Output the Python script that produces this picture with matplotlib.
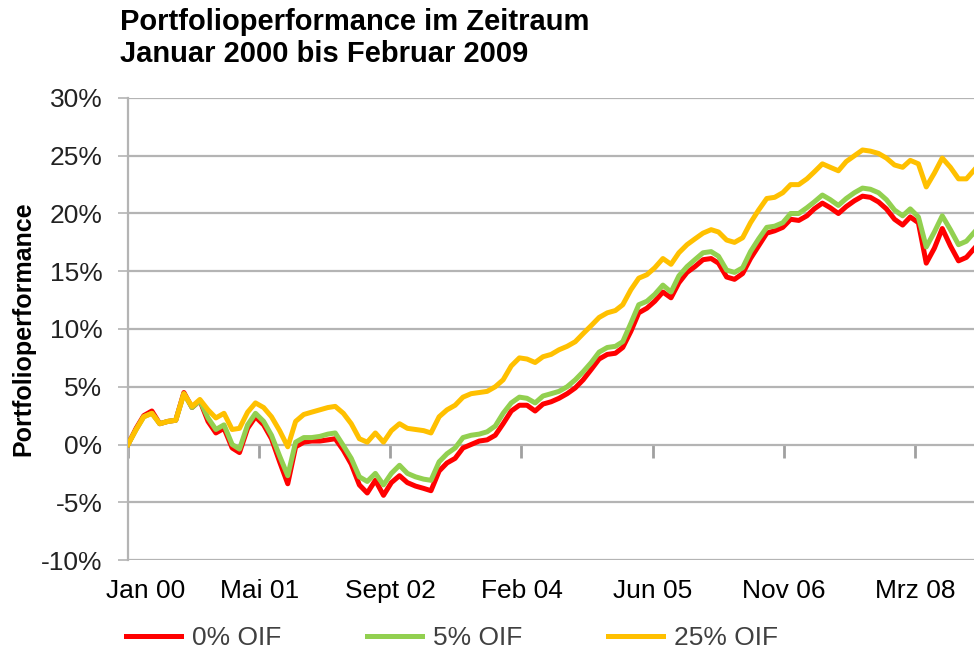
import matplotlib.pyplot as plt
import matplotlib.transforms as mtransforms
import numpy as np
import pandas as pd

plt.rcParams['font.family'] = ['Liberation Sans', 'DejaVu Sans']

# monthly values from Jan 2000, in percent
oif_25 = [0.0, 1.3, 2.4, 2.7, 1.8, 2.0, 2.1, 4.4, 3.3, 3.9,
          3.0, 2.3, 2.7, 1.3, 1.4, 2.8, 3.6, 3.2, 2.4, 1.2,
          -0.2, 2.0, 2.6, 2.8, 3.0, 3.2, 3.3, 2.7, 1.8, 0.5,
          0.2, 1.0, 0.2, 1.2, 1.8, 1.4, 1.3, 1.2, 1.0, 2.4,
          3.0, 3.4, 4.1, 4.4, 4.5, 4.6, 5.0, 5.6, 6.8, 7.5,
          7.4, 7.1, 7.6, 7.8, 8.2, 8.5, 8.9, 9.6, 10.3, 11.0,
          11.4, 11.6, 12.1, 13.4, 14.4, 14.7, 15.3, 16.1, 15.6, 16.6,
          17.3, 17.8, 18.3, 18.6, 18.4, 17.7, 17.5, 17.9, 19.2, 20.3,
          21.3, 21.4, 21.8, 22.5, 22.5, 23.0, 23.6, 24.3, 24.0, 23.7,
          24.5, 25.0, 25.5, 25.4, 25.2, 24.8, 24.2, 24.0, 24.6, 24.3,
          22.3, 23.5, 24.8, 24.0, 23.0, 23.0, 23.8]
oif_5 = [0.0, 1.3, 2.4, 2.7, 1.8, 2.0, 2.1, 4.4, 3.2, 3.8,
         2.3, 1.3, 1.7, 0.0, -0.4, 1.7, 2.7, 2.0, 0.8, -1.0,
         -2.7, 0.2, 0.6, 0.6, 0.7, 0.9, 1.0, -0.1, -1.2, -2.8,
         -3.2, -2.5, -3.5, -2.5, -1.8, -2.5, -2.8, -3.0, -3.1, -1.5,
         -0.8, -0.3, 0.6, 0.8, 0.9, 1.1, 1.6, 2.7, 3.6, 4.1,
         4.0, 3.6, 4.2, 4.4, 4.6, 5.0, 5.6, 6.3, 7.1, 8.0,
         8.4, 8.5, 8.9, 10.5, 12.1, 12.4, 13.0, 13.8, 13.2, 14.6,
         15.4, 16.0, 16.6, 16.7, 16.3, 15.1, 14.9, 15.3, 16.7, 17.8,
         18.8, 18.9, 19.2, 20.0, 20.0, 20.5, 21.0, 21.6, 21.2, 20.7,
         21.3, 21.8, 22.2, 22.1, 21.8, 21.2, 20.3, 19.8, 20.4, 19.7,
         17.1, 18.4, 19.8, 18.6, 17.3, 17.6, 18.4]
oif_0 = [0.0, 1.4, 2.5, 2.9, 1.8, 2.0, 2.1, 4.5, 3.2, 3.8,
         2.0, 1.0, 1.4, -0.3, -0.7, 1.4, 2.4, 1.7, 0.5, -1.5,
         -3.4, -0.2, 0.2, 0.3, 0.3, 0.4, 0.5, -0.5, -1.7, -3.5,
         -4.2, -3.1, -4.4, -3.3, -2.7, -3.3, -3.6, -3.8, -4.0, -2.3,
         -1.6, -1.2, -0.3, 0.0, 0.3, 0.4, 0.8, 1.8, 2.9, 3.4,
         3.4, 2.9, 3.5, 3.7, 4.0, 4.4, 4.9, 5.6, 6.5, 7.4,
         7.8, 7.9, 8.4, 9.8, 11.4, 11.8, 12.4, 13.2, 12.7, 14.0,
         14.9, 15.4, 16.0, 16.1, 15.7, 14.5, 14.3, 14.8, 16.1, 17.2,
         18.3, 18.5, 18.8, 19.5, 19.4, 19.8, 20.4, 20.9, 20.5, 20.0,
         20.6, 21.1, 21.5, 21.4, 21.0, 20.4, 19.5, 19.0, 19.7, 19.2,
         15.7, 17.0, 18.7, 17.2, 15.9, 16.2, 17.0]

series_names = ['0% OIF', '5% OIF', '25% OIF']
series_colors = ['#ff0000', '#92d050', '#ffc000']
tick_labels = ['Jan 00', 'Mai 01', 'Sept 02', 'Feb 04', 'Jun 05', 'Nov 06', 'Mrz 08']

dates = pd.date_range('2000-01-01', periods=len(oif_0), freq='MS')
start = pd.Timestamp('2000-01-01')
tick_dates = [start + pd.Timedelta(days=500 * k) for k in range(len(tick_labels))]

fig = plt.figure(figsize=(9.74, 6.57), dpi=100)
ax = fig.add_axes([128 / 974, 1 - 560 / 657, 1 - 128 / 974, 462 / 657])

grid_col = '#b4b4b4'
for vals, name, col in zip([oif_0, oif_5, oif_25], series_names, series_colors):
    ax.plot(dates, np.array(vals) / 100, color=col, lw=3.6, label=name,
            solid_joinstyle='round', zorder=3)

ax.set_ylim(-0.10, 0.30)
ax.set_xlim(start, start + pd.Timedelta(days=3225))
yt = np.arange(-0.10, 0.31, 0.05)
ax.set_yticks(yt)
ax.set_yticklabels(['%d%%' % round(v * 100) for v in yt], fontsize=19, color='#222222')
for v in yt:
    ax.axhline(v, color=grid_col, lw=1.6, zorder=1)

ax.set_xticks(tick_dates)
ax.set_xticklabels(tick_labels, fontsize=19)
ax.tick_params(axis='x', length=0, pad=14)
ax.tick_params(axis='y', length=7.5, width=1.2, color=grid_col, pad=11)
# first date label sits a bit to the right like in the original
lab0 = ax.get_xticklabels()[0]
lab0.set_transform(lab0.get_transform() + mtransforms.ScaledTranslation(0.18, 0, fig.dpi_scale_trans))

for s in ['top', 'right', 'bottom']:
    ax.spines[s].set_visible(False)
ax.spines['left'].set_color(grid_col)
ax.spines['left'].set_linewidth(1.6)

# tick marks on the zero line
sec = ax.secondary_xaxis(0.25)
sec.set_xticks(tick_dates)
sec.set_xticklabels([''] * len(tick_dates))
sec.tick_params(axis='x', length=9, width=2, color='#a0a0a0', direction='out')
sec.spines['bottom'].set_visible(False)

ax.set_ylabel('Portfolioperformance', fontsize=18, fontweight='bold')
ax.yaxis.set_label_coords(-0.110, 0.5)

fig.text(120 / 974, 1 - 8 / 657, 'Portfolioperformance im Zeitraum\nJanuar 2000 bis Februar 2009',
         fontsize=21, fontweight='bold', va='top', ha='left', linespacing=1.2)

fig.legend(loc='center left', bbox_to_anchor=(126 / 974, 1 - 638 / 657), ncol=3,
           frameon=False, fontsize=19, handlelength=2.1, handletextpad=0.4,
           columnspacing=3.25, borderpad=0, borderaxespad=0, labelcolor='#404040')

plt.savefig('out.png', dpi=100)
